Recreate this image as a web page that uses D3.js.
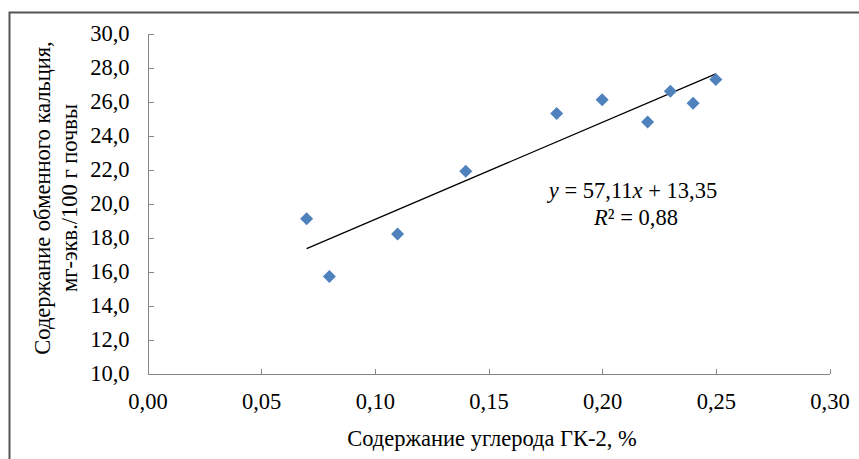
<!DOCTYPE html>
<meta charset="utf-8">
<style>
body { margin: 0; background: #fff; }
.axis path, .axis line { fill: none; stroke: #868686; stroke-width: 1px; shape-rendering: crispEdges; }
.point { fill: #4F81BD; }
.trend { stroke: #000; stroke-width: 1.3px; fill: none; }
</style>
<body>
<script src="https://cdn.jsdelivr.net/npm/d3@7"></script>
<script>

var carbon  = [0.07, 0.08, 0.11, 0.14, 0.18, 0.20, 0.22, 0.23, 0.24, 0.25];
var calcium = [19.1, 15.7, 18.2, 21.9, 25.3, 26.1, 24.8, 26.6, 25.9, 27.3];
var xTicks = [0, 0.05, 0.10, 0.15, 0.20, 0.25, 0.30];
var yTicks = [10, 12, 14, 16, 18, 20, 22, 24, 26, 28, 30];
var slope = 57.11, intercept = 13.35, r2 = 0.88;

var W = 859, H = 459;
var FONT = "'Liberation Serif', 'Times New Roman', serif";
var FS = "22.5px";
var comma = function(f) { return function(d) { return d3.format(f)(d).replace(".", ","); }; };
function serif(sel) { return sel.style("font-family", FONT).style("font-size", FS).style("fill", "#000"); }

var svg = d3.select("body").append("svg")
    .attr("width", W)
    .attr("height", H);

// outer frame (runs off the right and bottom edge)
svg.append("rect")
    .attr("x", 9.5).attr("y", 12.5)
    .attr("width", W + 20).attr("height", H + 20)
    .attr("fill", "#fff")
    .attr("stroke", "#555")
    .attr("stroke-width", 2);

var x = d3.scaleLinear().domain([0, 0.30]).range([147.5, 829.5]);
var y = d3.scaleLinear().domain([10, 30]).range([373.5, 33.5]);

svg.append("g")
    .attr("class", "x axis")
    .attr("transform", "translate(0," + y(10) + ")")
    .call(d3.axisBottom(x).tickValues(xTicks).tickFormat(comma(".2f")).tickSizeInner(-5).tickSizeOuter(0).tickPadding(20))
    .call(function(g) { serif(g.selectAll(".tick text")); });

svg.append("g")
    .attr("class", "y axis")
    .attr("transform", "translate(" + x(0) + ",0)")
    .call(d3.axisLeft(y).tickValues(yTicks).tickFormat(comma(".1f")).tickSizeInner(-6).tickSizeOuter(0).tickPadding(18))
    .call(function(g) { serif(g.selectAll(".tick text")); });

// trendline
var x0 = d3.min(carbon), x1 = d3.max(carbon);
svg.append("line")
    .attr("class", "trend")
    .attr("x1", x(x0)).attr("y1", y(slope * x0 + intercept))
    .attr("x2", x(x1)).attr("y2", y(slope * x1 + intercept));

// points
var diamond = d3.symbol().type(d3.symbolSquare).size(85);
svg.selectAll(".point")
    .data(carbon.map(function(c, i) { return [c, calcium[i]]; }))
  .enter().append("path")
    .attr("class", "point")
    .attr("d", diamond)
    .attr("transform", function(d) { return "translate(" + x(d[0]) + "," + y(d[1]) + ") rotate(45)"; });

// equation
var eq = serif(svg.append("text"))
    .attr("x", 633).attr("y", 198)
    .attr("text-anchor", "middle");
eq.append("tspan").style("font-style", "italic").text("y");
eq.append("tspan").text(" = " + comma(".2f")(slope));
eq.append("tspan").style("font-style", "italic").text("x");
eq.append("tspan").text(" + " + comma(".2f")(intercept));

var rt = serif(svg.append("text"))
    .attr("x", 636).attr("y", 225)
    .attr("text-anchor", "middle");
rt.append("tspan").style("font-style", "italic").text("R");
rt.append("tspan").text("² = " + comma(".2f")(r2));

// axis titles
serif(svg.append("text"))
    .attr("x", 492).attr("y", 446)
    .attr("text-anchor", "middle")
    .text("Содержание углерода ГК-2, %");

var yt = serif(svg.append("text"))
    .attr("transform", "translate(50,198) rotate(-90)")
    .attr("text-anchor", "middle");
yt.append("tspan").attr("x", 0).attr("y", 0).text("Содержание обменного кальция,");
yt.append("tspan").attr("x", 0).attr("y", 27).text("мг-экв./100 г почвы");

</script>
